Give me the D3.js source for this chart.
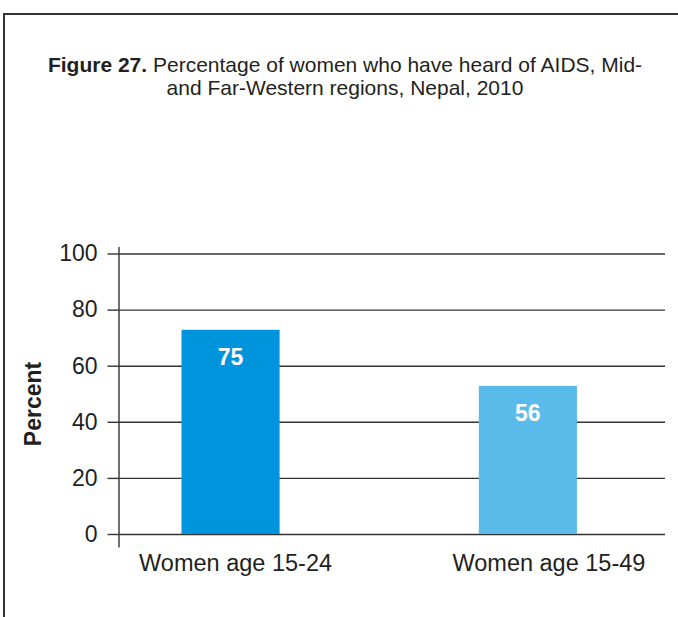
<!DOCTYPE html>
<html>
<head>
<meta charset="utf-8">
<script src="https://cdn.jsdelivr.net/npm/d3@7"></script>
<style>
  html, body { margin: 0; padding: 0; background: #fff; }
  svg { display: block; font-family: "Liberation Sans", Arial, sans-serif; }
</style>
</head>
<body>
<div id="chart"></div>
<script>
const categories = ["Women age 15-24", "Women age 15-49"];
const barValues = [72.8, 52.8];
const valueLabels = ["75", "56"];
const barColors = ["#0094dc", "#5abbeb"];
const yTicks = [0, 20, 40, 60, 80, 100];
const titleBold = "Figure 27.";
const titleLines = [" Percentage of women who have heard of AIDS, Mid-", "and Far-Western regions, Nepal, 2010"];
const yLabel = "Percent";

const width = 678, height = 617;
const margin = { top: 253.5, right: 13, bottom: 83, left: 118.5 };
const innerWidth = width - margin.left - margin.right;
const innerHeight = height - margin.top - margin.bottom;

const svg = d3.select("#chart").append("svg").attr("width", width).attr("height", height);

// frame, open on the right and bottom like the cropped page
svg.append("path")
  .attr("d", `M4,${height}V14H${width}`)
  .attr("fill", "none")
  .attr("stroke", "#333")
  .attr("stroke-width", 2);

// title
const title = svg.append("text").attr("text-anchor", "middle").attr("font-size", 21).attr("fill", "#231f20");
const line1 = title.append("tspan").attr("x", 345).attr("y", 72);
line1.append("tspan").attr("font-weight", "bold").text(titleBold);
line1.append("tspan").text(titleLines[0]);
title.append("tspan").attr("x", 345).attr("y", 95).text(titleLines[1]);

const g = svg.append("g").attr("transform", `translate(${margin.left},${margin.top})`);

const x = d3.scaleBand().domain(categories).range([0, innerWidth]).paddingInner(0.67).paddingOuter(0.254).align(0.417);
const xLabel = d3.scalePoint().domain(categories).range([0, innerWidth]).padding(0.372);
const y = d3.scaleLinear().domain([0, 100]).range([innerHeight, 0]);

// grid
g.append("g")
  .call(d3.axisLeft(y).tickValues(yTicks).tickSize(-innerWidth).tickFormat(""))
  .call(s => s.select(".domain").remove())
  .selectAll("line").attr("stroke", "#333").attr("stroke-width", 1.4);

// bars
g.append("g").selectAll("rect")
  .data(categories)
  .join("rect")
  .attr("x", d => x(d))
  .attr("width", x.bandwidth())
  .attr("y", (d, i) => y(barValues[i]))
  .attr("height", (d, i) => innerHeight - y(barValues[i]))
  .attr("fill", (d, i) => barColors[i]);

// value labels
g.append("g").selectAll("text")
  .data(categories)
  .join("text")
  .attr("x", d => x(d) + x.bandwidth() / 2)
  .attr("y", (d, i) => y(barValues[i]) + 35)
  .attr("text-anchor", "middle")
  .attr("font-size", 23)
  .attr("font-weight", "bold")
  .attr("fill", "#fff")
  .text((d, i) => valueLabels[i]);

// y axis
const yAxis = g.append("g")
  .call(d3.axisLeft(y).tickValues(yTicks).tickSize(11).tickPadding(10).tickSizeOuter(0));
yAxis.select(".domain").attr("d", `M0.5,-6.5V${innerHeight + 13.5}`).attr("stroke", "#333").attr("stroke-width", 1.4);
yAxis.selectAll("line").attr("stroke", "#333").attr("stroke-width", 1.4);
yAxis.selectAll("text").attr("font-size", 23).attr("fill", "#231f20").attr("font-family", "Liberation Sans, Arial, sans-serif");

// x labels
g.append("g")
  .attr("transform", `translate(0,${innerHeight})`)
  .call(d3.axisBottom(xLabel).tickSize(0).tickPadding(0))
  .call(s => s.select(".domain").remove())
  .selectAll("text")
  .attr("dy", 0)
  .attr("y", 36.5)
  .attr("font-size", 23.5)
  .attr("fill", "#231f20")
  .attr("font-family", "Liberation Sans, Arial, sans-serif");

// y label
svg.append("text")
  .attr("transform", "translate(41,404) rotate(-90)")
  .attr("text-anchor", "middle")
  .attr("font-size", 23)
  .attr("font-weight", "bold")
  .attr("fill", "#231f20")
  .text(yLabel);
</script>
</body>
</html>
